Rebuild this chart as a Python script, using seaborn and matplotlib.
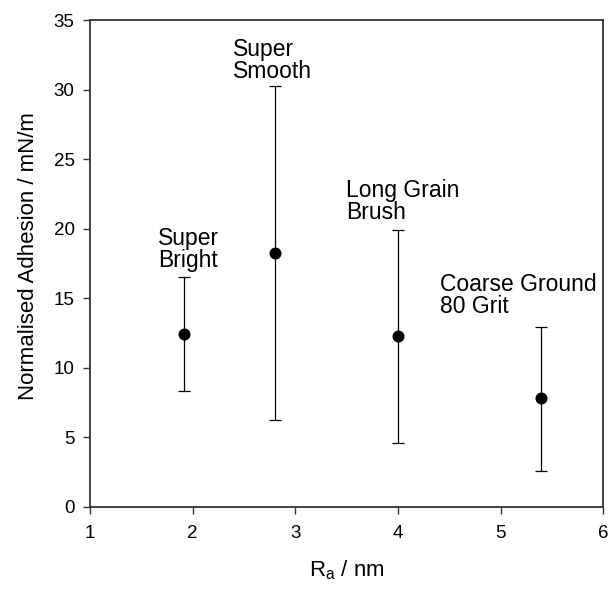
import matplotlib
matplotlib.use("Agg")
import matplotlib.pyplot as plt
import seaborn as sns
import numpy as np
import pandas as pd

# Data
ra = [1.92, 2.80, 4.00, 5.39]
adhesion = [12.4, 18.25, 12.25, 7.8]
err_low = [8.35, 6.25, 4.6, 2.6]
err_high = [16.5, 30.25, 19.9, 12.9]
surface = ["Super\nBright", "Super\nSmooth", "Long Grain\nBrush", "Coarse Ground\n80 Grit"]
label_x = [1.663, 2.394, 3.495, 4.41]
label_y = [20.1, 33.7, 23.6, 16.8]
x_ticks = [1, 2, 3, 4, 5, 6]
y_ticks = [0, 5, 10, 15, 20, 25, 30, 35]

sns.set_theme(style="ticks")
plt.rcParams['font.family'] = ['Liberation Sans', 'DejaVu Sans']

df = pd.DataFrame({"ra": ra, "adh": adhesion, "lo": err_low, "hi": err_high, "name": surface})

fig = plt.figure(figsize=(6.08, 5.90), dpi=100)
ax = fig.add_axes([0.148, 0.141, 0.844, 0.825])

yerr = np.array([df["adh"] - df["lo"], df["hi"] - df["adh"]])
ax.errorbar(df["ra"], df["adh"], yerr=yerr, fmt="none", ecolor="black",
            elinewidth=0.9, capsize=4, capthick=0.9, zorder=2)
sns.scatterplot(data=df, x="ra", y="adh", ax=ax, color="black", s=75,
                edgecolor="black", linewidth=0, zorder=3, legend=False)

for lx, ly, t in zip(label_x, label_y, df["name"]):
    ax.text(lx, ly, t, fontsize=16.5, va="top", ha="left", linespacing=0.95, color="black")

ax.set_xlim(1, 6)
ax.set_ylim(0, 35)
ax.set_xticks(x_ticks)
ax.set_yticks(y_ticks)
ax.tick_params(axis="both", labelsize=13.5, length=5, width=1, direction="out",
               colors="#333333", labelcolor="black")
ax.tick_params(axis="x", pad=8)
ax.tick_params(axis="y", pad=6)
for sp in ax.spines.values():
    sp.set_visible(True)
    sp.set_color("#333333")
    sp.set_linewidth(1.3)

ax.set_xlabel("R$_\\mathregular{a}$ / nm", fontsize=16, labelpad=12, color="black")
ax.set_ylabel("Normalised Adhesion / mN/m", fontsize=16, color="black")
ax.yaxis.set_label_coords(-0.10, 0.515)

fig.savefig("out.png", dpi=100)
